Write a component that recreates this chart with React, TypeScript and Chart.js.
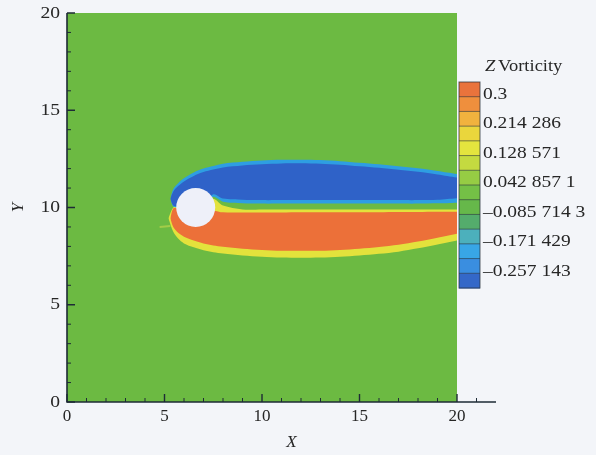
import { useEffect, useRef } from 'react';
import { Chart, registerables } from 'chart.js';

Chart.register(...registerables);

// Computational domain (uniform background vorticity)
const FIELD_X = [0, 20];
const FIELD_TOP = [20, 20];
const FIELD_BOTTOM = [0, 0];

// Stations along the wake used by the shear-layer contour boundaries
const SHEAR_X = [5.3, 5.45, 5.7, 6.0, 6.5, 7.0, 7.5, 8.0, 9, 10, 11, 12, 13, 14, 15, 16, 17, 18, 19, 19.5, 20];

// Upper shear layer (negative vorticity): outer edge band
const NEG_EDGE_TOP = [10.45, 10.95, 11.25, 11.5, 11.8, 12.0, 12.13, 12.25, 12.35, 12.42, 12.45, 12.46, 12.44, 12.38, 12.3, 12.22, 12.12, 12.02, 11.88, 11.8, 11.72];
const NEG_EDGE_BOTTOM = [10.45, 10.05, 10.0, 10.0, 10.0, 10.1, 10.55, 10.3, 10.22, 10.2, 10.2, 10.2, 10.2, 10.2, 10.2, 10.2, 10.2, 10.2, 10.22, 10.22, 10.24];
// Upper shear layer: core
const NEG_CORE_TOP = [10.45, 10.82, 11.1, 11.34, 11.62, 11.82, 11.95, 12.06, 12.16, 12.22, 12.26, 12.27, 12.25, 12.2, 12.12, 12.04, 11.94, 11.84, 11.7, 11.62, 11.54];
const NEG_CORE_BOTTOM = [10.45, 10.1, 10.05, 10.05, 10.05, 10.15, 10.68, 10.46, 10.4, 10.38, 10.38, 10.38, 10.38, 10.38, 10.38, 10.38, 10.38, 10.38, 10.4, 10.44, 10.48];

// Lower shear layer (positive vorticity): outer edge band
const POS_EDGE_X = [5.2, 5.45, 5.7, 6.0, 6.5, 7.0, 7.5, 8.0, 9, 10, 11, 12, 13, 14, 15, 16, 17, 18, 19, 19.5, 20];
const POS_EDGE_TOP = [9.45, 10.0, 10.0, 10.0, 10.0, 10.1, 10.45, 10.1, 9.9, 9.9, 9.9, 9.9, 9.9, 9.9, 9.9, 9.9, 9.9, 9.9, 9.9, 9.9, 9.9];
const POS_EDGE_BOTTOM = [9.45, 8.75, 8.4, 8.15, 7.95, 7.8, 7.7, 7.63, 7.53, 7.47, 7.43, 7.42, 7.43, 7.47, 7.53, 7.62, 7.73, 7.9, 8.1, 8.2, 8.3];
// Lower shear layer: core
const POS_CORE_TOP = [9.45, 9.95, 9.95, 9.95, 9.95, 9.95, 9.85, 9.75, 9.74, 9.74, 9.74, 9.75, 9.75, 9.76, 9.76, 9.76, 9.77, 9.77, 9.78, 9.78, 9.78];
const POS_CORE_BOTTOM = [9.45, 9.0, 8.7, 8.5, 8.3, 8.15, 8.05, 7.98, 7.88, 7.82, 7.78, 7.77, 7.78, 7.82, 7.88, 7.97, 8.08, 8.25, 8.45, 8.55, 8.65];

// Faint streak upstream of the lower layer
const STREAK_X = [4.75, 5.3];
const STREAK_Y = [9.0, 9.05];

// Cylinder
const CYLINDER_X = [6.6];
const CYLINDER_Y = [10.0];
const CYLINDER_R = 1.0;

// Axis ticks
const X_TICKS = [0, 5, 10, 15, 20];
const Y_TICKS = [0, 5, 10, 15, 20];
const X_MINOR = [1, 2, 3, 4, 6, 7, 8, 9, 11, 12, 13, 14, 16, 17, 18, 19, 21];
const Y_MINOR = [1, 2, 3, 4, 6, 7, 8, 9, 11, 12, 13, 14, 16, 17, 18, 19];

// Contour legend (top to bottom)
const LEVEL_COLORS = [
  '#e9733c', '#ef8f3d', '#f1b23e', '#ead63c', '#e4e43e', '#c4da40', '#96cc44',
  '#74c046', '#66b84a', '#54ac6c', '#4cb0bc', '#38a6e6', '#3a8ee0', '#3468c8',
];
const LEVEL_LABELS = ['0.3', '0.214 286', '0.128 571', '0.042 857 1', '\u20130.085 714 3', '\u20130.171 429', '\u20130.257 143'];

const COLORS = {
  field: '#6cba42',
  posEdge: '#e3e23c',
  posCore: '#ec7039',
  negEdge: '#2e9ee2',
  negCore: '#2f62c8',
  cylinder: '#eef0f9',
  streak: 'rgba(200,216,76,0.6)',
};

const SERIF = '"Liberation Serif", "Times New Roman", serif';

const pts = (xs: number[], ys: number[]) => xs.map((x, i) => ({ x, y: ys[i] }));

function band(label: string, xs: number[], top: number[], bottom: number[], color: string, order: number) {
  const common = {
    type: 'line' as const,
    showLine: true,
    borderWidth: 0,
    borderColor: 'transparent',
    pointRadius: 0,
    pointHoverRadius: 0,
    tension: 0.3,
    order,
  };
  return [
    { ...common, label, data: pts(xs, top), fill: '+1', backgroundColor: color },
    { ...common, label: label + ' lower', data: pts(xs, bottom), fill: false, backgroundColor: color },
  ];
}

function drawText(ctx: CanvasRenderingContext2D, text: string, x: number, y: number, align: CanvasTextAlign, size: number, sx = 1, italic = false) {
  ctx.save();
  ctx.font = `${italic ? 'italic ' : ''}${size}px ${SERIF}`;
  ctx.textAlign = align;
  ctx.textBaseline = 'middle';
  ctx.translate(x, y);
  ctx.scale(sx, 1);
  ctx.fillText(text, 0, 0);
  ctx.restore();
}

const framePlugin = {
  id: 'frameAndContourLegend',
  afterDraw(chart: any) {
    const { ctx, chartArea } = chart;
    const xs = chart.scales.x;
    const ys = chart.scales.y;
    const x0 = xs.getPixelForValue(0);
    const y0 = ys.getPixelForValue(0);
    ctx.save();

    // axis lines
    ctx.strokeStyle = '#1e2b36';
    ctx.lineWidth = 1.6;
    ctx.beginPath();
    ctx.moveTo(x0, ys.getPixelForValue(20));
    ctx.lineTo(x0, y0);
    ctx.lineTo(chartArea.right, y0);
    ctx.stroke();

    // inward ticks
    ctx.lineWidth = 1.4;
    ctx.beginPath();
    X_TICKS.forEach((v) => { const p = xs.getPixelForValue(v); ctx.moveTo(p, y0); ctx.lineTo(p, y0 - 8); });
    Y_TICKS.forEach((v) => { const p = ys.getPixelForValue(v); ctx.moveTo(x0, p); ctx.lineTo(x0 + 8, p); });
    ctx.stroke();
    ctx.lineWidth = 1;
    ctx.beginPath();
    X_MINOR.forEach((v) => { const p = xs.getPixelForValue(v); ctx.moveTo(p, y0); ctx.lineTo(p, y0 - 4); });
    Y_MINOR.forEach((v) => { const p = ys.getPixelForValue(v); ctx.moveTo(x0, p); ctx.lineTo(x0 + 4, p); });
    ctx.stroke();

    // tick labels
    ctx.fillStyle = '#262626';
    X_TICKS.forEach((v) => drawText(ctx, String(v), xs.getPixelForValue(v), y0 + 15, 'center', 17));
    Y_TICKS.forEach((v) => drawText(ctx, String(v), x0 - 7, ys.getPixelForValue(v), 'right', 17.5, 1.12));

    // axis titles
    drawText(ctx, 'X', (xs.getPixelForValue(0) + xs.getPixelForValue(22)) / 2 + 10, y0 + 41, 'center', 17, 1, true);
    ctx.save();
    ctx.translate(19, ys.getPixelForValue(10));
    ctx.rotate(-Math.PI / 2);
    drawText(ctx, 'Y', 0, 0, 'center', 17, 1, true);
    ctx.restore();

    // contour legend
    const bx = 459, bw = 21, by = 82, bh = 206;
    const n = LEVEL_COLORS.length;
    const h = bh / n;
    LEVEL_COLORS.forEach((c, i) => {
      ctx.fillStyle = c;
      ctx.fillRect(bx, by + i * h, bw, h + 0.5);
    });
    ctx.strokeStyle = 'rgba(40,50,60,0.75)';
    ctx.lineWidth = 0.8;
    ctx.beginPath();
    for (let i = 1; i < n; i++) { ctx.moveTo(bx, by + i * h); ctx.lineTo(bx + bw, by + i * h); }
    ctx.stroke();
    ctx.lineWidth = 1;
    ctx.strokeRect(bx, by, bw, bh);

    ctx.fillStyle = '#262626';
    LEVEL_LABELS.forEach((t, i) => drawText(ctx, t, 483, by + (2 * i + 1) * h - 2, 'left', 16.5, 1.18));
    drawText(ctx, 'Z', 485, 67, 'left', 16.5, 1.12, true);
    drawText(ctx, 'Vorticity', 498, 67, 'left', 16.5, 1.12);

    ctx.restore();
  },
};

export default function App() {
  const ref = useRef<HTMLCanvasElement>(null);

  useEffect(() => {
    if (!ref.current) return;
    const datasets: any[] = [
      ...band('field', FIELD_X, FIELD_TOP, FIELD_BOTTOM, COLORS.field, 20),
      ...band('positive edge', POS_EDGE_X, POS_EDGE_TOP, POS_EDGE_BOTTOM, COLORS.posEdge, 18),
      ...band('positive core', SHEAR_X, POS_CORE_TOP, POS_CORE_BOTTOM, COLORS.posCore, 16),
      ...band('negative edge', SHEAR_X, NEG_EDGE_TOP, NEG_EDGE_BOTTOM, COLORS.negEdge, 14),
      ...band('negative core', SHEAR_X, NEG_CORE_TOP, NEG_CORE_BOTTOM, COLORS.negCore, 12),
      {
        type: 'line',
        label: 'streak',
        data: pts(STREAK_X, STREAK_Y),
        showLine: true,
        borderColor: COLORS.streak,
        borderWidth: 2,
        pointRadius: 0,
        fill: false,
        order: 10,
      },
      {
        type: 'scatter',
        label: 'cylinder',
        data: pts(CYLINDER_X, CYLINDER_Y),
        pointBackgroundColor: COLORS.cylinder,
        pointBorderWidth: 0,
        pointBorderColor: COLORS.cylinder,
        pointRadius: (c: any) => {
          const s = c.chart.scales.x;
          return s.getPixelForValue(CYLINDER_X[0] + CYLINDER_R) - s.getPixelForValue(CYLINDER_X[0]);
        },
        order: 1,
      },
    ];

    const chart = new Chart(ref.current, {
      type: 'scatter',
      data: { datasets },
      options: {
        animation: false,
        responsive: false,
        devicePixelRatio: 1,
        layout: { padding: { left: 67, right: 100, top: 13, bottom: 53 } },
        scales: {
          x: { type: 'linear', min: 0, max: 22, display: false },
          y: { type: 'linear', min: 0, max: 20, display: false },
        },
        plugins: { legend: { display: false }, tooltip: { enabled: false } },
        events: [],
      },
      plugins: [framePlugin],
    });
    return () => chart.destroy();
  }, []);

  return (
    <div style={{ position: 'fixed', left: 0, top: 0, width: 596, height: 455, background: '#f3f5f9' }}>
      <canvas ref={ref} width={596} height={455} style={{ display: 'block' }} />
    </div>
  );
}
